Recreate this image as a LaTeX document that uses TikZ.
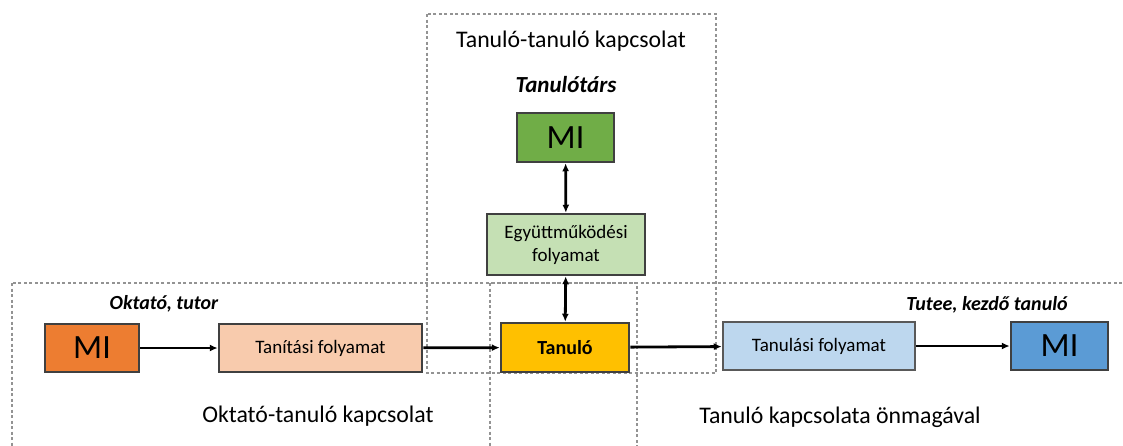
\documentclass[tikz,border=0pt]{standalone}
\usepackage{fontspec}
\setmainfont{Carlito}
\usetikzlibrary{arrows.meta}
\definecolor{cgreen}{HTML}{70AD47}
\definecolor{cgreenl}{HTML}{C5E0B4}
\definecolor{cyellow}{HTML}{FFC000}
\definecolor{corange}{HTML}{ED7D31}
\definecolor{corangel}{HTML}{F8CBAD}
\definecolor{cbluel}{HTML}{BDD7EE}
\definecolor{cblue}{HTML}{5B9BD5}
\definecolor{cborder}{HTML}{404040}
\tikzset{
  boxstyle/.style={draw=cborder, line width=2.5pt, inner sep=0pt, anchor=center},
  mibox/.style={boxstyle, minimum width=95pt, minimum height=48pt, font=\fontsize{34}{34}\selectfont},
  procbox/.style={boxstyle, font=\fontsize{19}{23}\selectfont, align=center},
  region/.style={draw=gray!85, line width=2pt, dash pattern=on 3pt off 2.5pt},
  conn/.style={line width=2.8pt, -{Latex[length=8pt,width=7pt]}},
  biconn/.style={line width=2.8pt, {Latex[length=8pt,width=7pt]}-{Latex[length=8pt,width=7pt]}},
  role/.style={font=\fontsize{20}{20}\selectfont\bfseries\itshape},
  title/.style={font=\fontsize{23.8}{24}\selectfont}
}
\begin{document}
\begin{tikzpicture}[x=1pt,y=-1pt]
\useasboundingbox (0,0) rectangle (1123,445);
\begin{scope}
\clip (0,0) rectangle (1123,445);
% regions
\draw[region] (427,14) rectangle (716,373);
\draw[region] (12,283) rectangle (637,460);
\draw[region] (490,283) rectangle (1135,460);
\end{scope}
% texts
\node[title] (t1) at (571,41) {Tanuló-tanuló kapcsolat};
\node[role, font=\fontsize{23}{23}\selectfont\bfseries\itshape] (r1) at (566,85) {Tanulótárs};
\node[role] (r2) at (164,304) {Oktató, tutor};
\node[role] (r3) at (987,305) {Tutee, kezdő tanuló};
\node[title] (t2) at (318,416) {Oktató-tanuló kapcsolat};
\node[title] (t3) at (840,417) {Tanuló kapcsolata önmagával};
% nodes
\node[mibox, fill=cgreen, minimum width=97pt, minimum height=49pt] (migreen) at (565.5,137.5) {MI};
\node[procbox, fill=cgreenl, minimum width=158pt, minimum height=61pt] (egyutt) at (566,244.5) {Együttműködési\\folyamat};
\node[procbox, fill=cyellow, minimum width=128pt, minimum height=49pt, font=\fontsize{20}{20}\selectfont\bfseries] (tanulo) at (565,347.5) {Tanuló};
\node[mibox, fill=corange, minimum width=94pt] (miorange) at (92,348) {MI};
\node[procbox, fill=corangel, minimum width=203pt, minimum height=48pt] (tanitasi) at (320.5,348) {Tanítási folyamat};
\node[procbox, fill=cbluel, draw=gray!70!black, minimum width=192pt, minimum height=48pt] (tanulasi) at (819,346) {Tanulási folyamat};
\node[mibox, fill=cblue, minimum width=97pt] (miblue) at (1059.5,346) {MI};
% connectors
\draw[conn] (miorange) -- (tanitasi);
\draw[conn] (tanitasi) -- (tanulo);
\draw[conn] (tanulo) -- (tanulasi);
\draw[conn] (tanulasi) -- (miblue);
\draw[biconn] (migreen) -- (egyutt);
\draw[biconn] (egyutt) -- (tanulo);
\end{tikzpicture}
\end{document}
